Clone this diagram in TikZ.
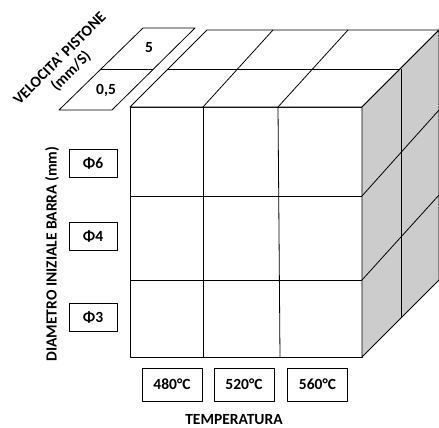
\documentclass[tikz,border=0pt]{standalone}
\usepackage{fontspec}
\setmainfont{Carlito}[BoldFont={Carlito Bold}]
\begin{document}
\begin{tikzpicture}[x=1pt,y=-1pt, line width=0.8pt, line join=round,
  lbl/.style={font=\bfseries\fontsize{15.5}{18}\selectfont, inner sep=0pt},
  valbox/.style={draw, lbl, minimum width=48pt, minimum height=28pt},
  tempbox/.style={draw, lbl, minimum width=60pt, minimum height=33pt},
  side/.style={fill=black!20}]
\useasboundingbox (0,0) rectangle (439,428);
% front face
\draw[fill=white] (130,107) rectangle (362,357);
\draw (203,107) -- (203,357);
\draw (278,107) -- (280,357);
\draw (130,196) -- (362,196);
\draw (130,280) -- (362,280);
% top face
\draw[fill=white] (130,107) -- (207,30) -- (439,30) -- (362,107) -- cycle;
\draw (168,69) -- (401,69);
\draw (203,107) -- (273,30);
\draw (278,107) -- (348,30);
% right face
\draw[side] (362,107) -- (439,30) -- (439,280) -- (362,357) -- cycle;
\draw (401,69) -- (401,318);
\draw (362,196) -- (439,110);
\draw (362,280) -- (439,195);
% velocity parallelogram
\draw (59,110) -- (112,110) -- (195,28) -- (143,28) -- cycle;
\draw (101,69) -- (153,69);
\node[lbl] (v5) at (149,48) {5};
\node[lbl] (v05) at (106,90) {0,5};
\node[lbl, rotate=45] (vlab1) at (59,58) {VELOCITA’ PISTONE};
\node[lbl, rotate=45] (vlab2) at (71,71) {(mm/S)};
% diameter
\node[lbl, rotate=90] (dlab) at (52,254) {DIAMETRO INIZIALE BARRA (mm)};
\node[valbox] (d6) at (93,163) {Φ6};
\node[valbox] (d4) at (93,236) {Φ4};
\node[valbox] (d3) at (93,317.5) {Φ3};
% temperature
\node[tempbox] (t1) at (172,384.5) {480°C};
\node[tempbox] (t2) at (244,384.5) {520°C};
\node[tempbox] (t3) at (317.5,384.5) {560°C};
\node[lbl] (tlab) at (234,420) {TEMPERATURA};
\end{tikzpicture}
\end{document}
